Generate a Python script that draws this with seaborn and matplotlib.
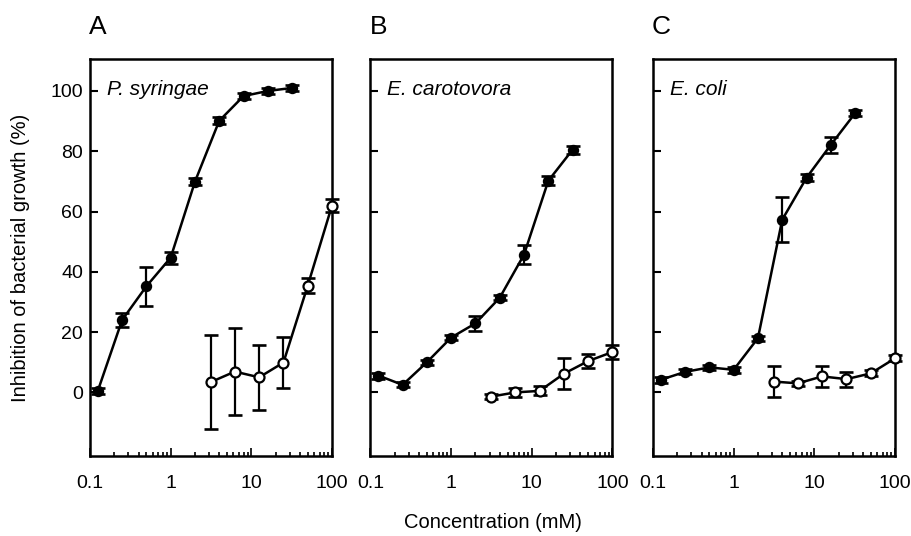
import numpy as np
import pandas as pd
import seaborn as sns
import matplotlib
matplotlib.use('Agg')
import matplotlib.pyplot as plt
from matplotlib.ticker import LogLocator, FixedLocator, NullFormatter

# concentrations (mM)
conc_filled = [0.125, 0.25, 0.5, 1, 2, 4, 8, 16, 32]
conc_open = [3.125, 6.25, 12.5, 25, 50, 100]

# A: P. syringae
a_filled = [0.5, 24.0, 35.2, 44.7, 69.9, 90.1, 98.3, 100.0, 101.0]
a_filled_err = [1.0, 2.4, 6.4, 2.0, 1.2, 1.2, 1.0, 1.0, 1.0]
a_open = [3.4, 6.9, 5.0, 9.9, 35.4, 62.0]
a_open_err = [15.6, 14.5, 10.7, 8.5, 2.5, 2.2]

# B: E. carotovora
b_filled = [5.6, 2.5, 10.0, 18.2, 22.9, 31.4, 45.7, 70.2, 80.5]
b_filled_err = [1.0, 0.8, 0.8, 0.8, 2.5, 0.8, 3.2, 1.5, 1.3]
b_open = [-1.4, 0.0, 0.5, 6.2, 10.4, 13.4]
b_open_err = [0.8, 1.5, 1.5, 5.2, 2.3, 2.4]

# C: E. coli
c_filled = [4.2, 6.8, 8.3, 7.5, 18.0, 57.3, 71.2, 82.1, 92.6]
c_filled_err = [1.0, 0.8, 0.8, 1.0, 0.8, 7.4, 1.2, 2.6, 1.0]
c_open = [3.6, 3.0, 5.3, 4.4, 6.3, 11.3]
c_open_err = [5.0, 0.8, 3.6, 2.5, 1.0, 1.0]

panel_letters = ['A', 'B', 'C']
species = ['P. syringae', 'E. carotovora', 'E. coli']
y_ticks = [0, 20, 40, 60, 80, 100]
x_ticks = [0.1, 1, 10, 100]
x_ticklabels = ['0.1', '1', '10', '100']

panels = [
    (a_filled, a_filled_err, a_open, a_open_err),
    (b_filled, b_filled_err, b_open, b_open_err),
    (c_filled, c_filled_err, c_open, c_open_err),
]

sns.set_style('ticks', {'axes.edgecolor': 'black', 'text.color': 'black',
                        'xtick.color': 'black', 'ytick.color': 'black',
                        'axes.labelcolor': 'black'})
plt.rcParams['font.family'] = ['Liberation Sans', 'DejaVu Sans']

fig = plt.figure(figsize=(9.12, 5.36), dpi=100)

lefts = [90, 370.5, 653]
W, H = 912, 536
ax_w = 242
ax_bottom = (H - 455.7) / H
ax_h = (455.7 - 59.3) / H

for i, (filled, filled_err, opn, opn_err) in enumerate(panels):
    ax = fig.add_axes([lefts[i] / W, ax_bottom, ax_w / W, ax_h])
    ax.set_xscale('log')

    df_f = pd.DataFrame({'conc': conc_filled, 'value': filled})
    df_o = pd.DataFrame({'conc': conc_open, 'value': opn})

    ax.errorbar(conc_filled, filled, yerr=filled_err, fmt='none', ecolor='black',
                elinewidth=1.6, capsize=4.8, capthick=1.9, zorder=2, clip_on=False)
    ax.errorbar(conc_open, opn, yerr=opn_err, fmt='none', ecolor='black',
                elinewidth=1.6, capsize=4.8, capthick=1.9, zorder=2, clip_on=False)

    sns.lineplot(x='conc', y='value', data=df_f, ax=ax, color='black', linewidth=1.8,
                 marker='o', markersize=7, markerfacecolor='black',
                 markeredgecolor='black', markeredgewidth=1.2, clip_on=False, zorder=3)
    sns.lineplot(x='conc', y='value', data=df_o, ax=ax, color='black', linewidth=1.8,
                 marker='o', markersize=7.2, markerfacecolor='white',
                 markeredgecolor='black', markeredgewidth=1.6, clip_on=False, zorder=3)

    ax.set_xlim(0.1, 100)
    ax.set_ylim(-21, 110.5)
    ax.set_xlabel('')
    ax.set_ylabel('')

    ax.xaxis.set_major_locator(FixedLocator(x_ticks))
    ax.set_xticklabels(x_ticklabels)
    ax.xaxis.set_minor_locator(LogLocator(base=10, subs=np.arange(2, 10)))
    ax.xaxis.set_minor_formatter(NullFormatter())
    ax.set_yticks(y_ticks)
    if i > 0:
        ax.set_yticklabels([])

    ax.tick_params(axis='x', which='major', direction='in', length=5.5, width=1.2,
                   pad=14, labelsize=14, colors='black')
    ax.tick_params(axis='x', which='minor', direction='in', length=3.2, width=1.2,
                   colors='black')
    ax.tick_params(axis='y', which='major', direction='in', length=6, width=1.5,
                   pad=5, labelsize=14, colors='black')
    ax.tick_params(axis='y', which='minor', left=False)

    for s in ax.spines.values():
        s.set_linewidth(1.8)
        s.set_color('black')

    ax.text(0.07, 0.925, species[i], transform=ax.transAxes, fontsize=15,
            fontstyle='italic', ha='left', va='center', color='black')
    fig.text((lefts[i] - 1) / W, 1 - 27 / H, panel_letters[i], fontsize=19,
             ha='left', va='center', color='black')

fig.text(0.022, 1 - 257.5 / H, 'Inhibition of bacterial growth (%)', rotation=90,
         fontsize=14.5, ha='center', va='center', color='black')
fig.text(493 / W, 1 - 523 / H, 'Concentration (mM)', fontsize=14.5,
         ha='center', va='center', color='black')

fig.savefig('out.png', dpi=100)
